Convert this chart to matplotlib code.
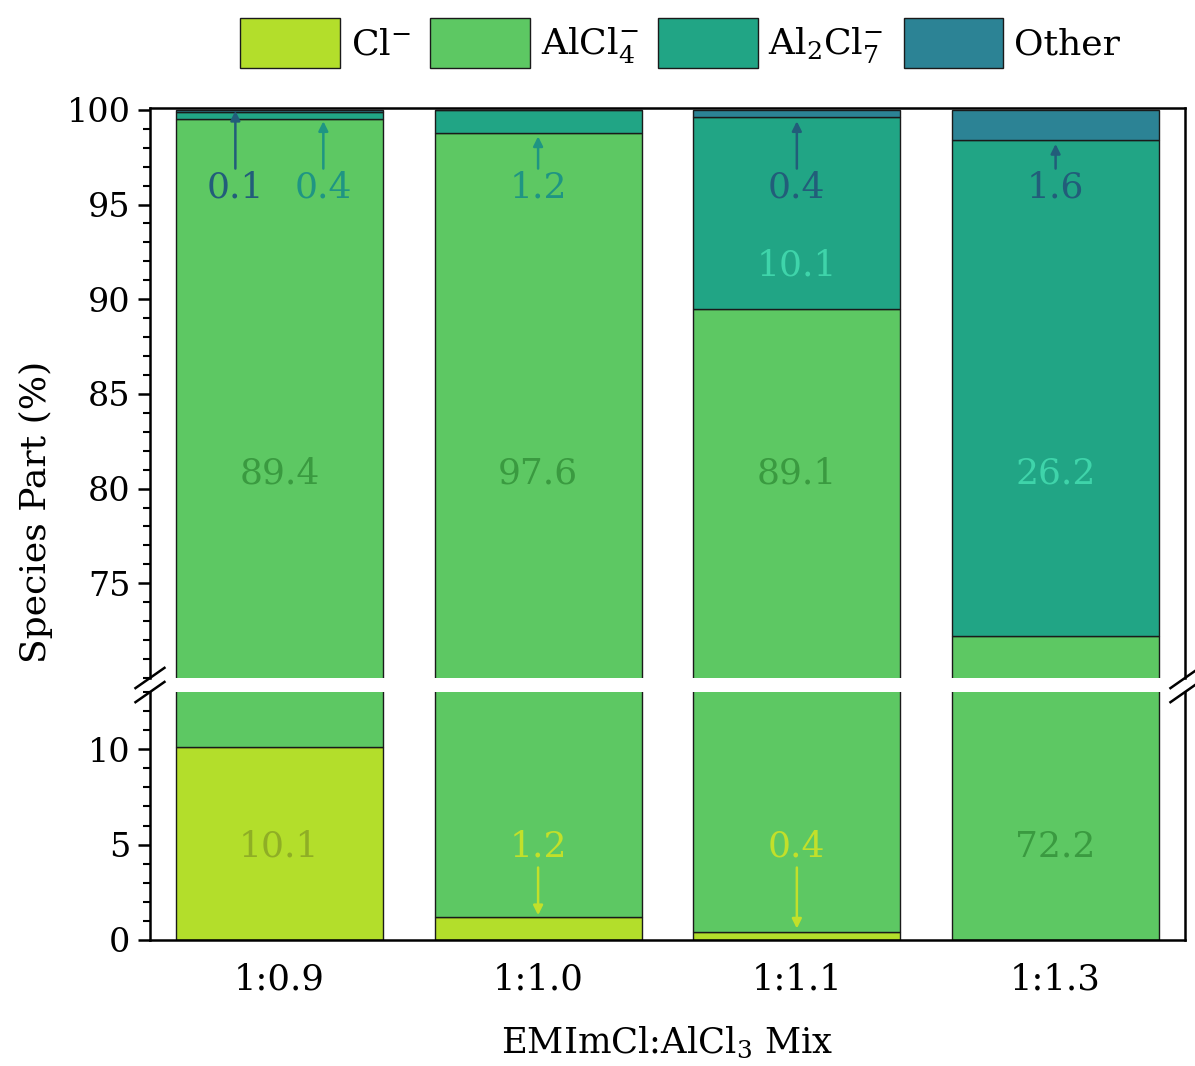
import numpy as np
import matplotlib
matplotlib.use("Agg")
import matplotlib.pyplot as plt
from matplotlib.ticker import MultipleLocator

plt.rcParams['font.family'] = ['DejaVu Serif']
plt.rcParams['mathtext.fontset'] = 'dejavuserif'

mixes = ["1:0.9", "1:1.0", "1:1.1", "1:1.3"]
cl = [10.1, 1.2, 0.4, 0.0]
alcl4 = [89.4, 97.6, 89.1, 72.2]
al2cl7 = [0.4, 1.2, 10.1, 26.2]
other = [0.1, 0.0, 0.4, 1.6]

species = [r"Cl$^{-}$", r"AlCl$_4^{-}$", r"Al$_2$Cl$_7^{-}$", "Other"]
colors = ["#b3de2b", "#5dc863", "#21a585", "#2c8395"]

x = np.arange(len(mixes))
series = [cl, alcl4, al2cl7, other]

fig = plt.figure(figsize=(11.95, 10.66), dpi=100)
ax_top = fig.add_axes([0.1255, 0.364, 0.8661, 0.5347])
ax_bot = fig.add_axes([0.1255, 0.1182, 0.8661, 0.2326])

for ax in (ax_top, ax_bot):
    bottom = np.zeros(len(mixes))
    for vals, col, lab in zip(series, colors, species):
        ax.bar(x, vals, 0.8, bottom=bottom, color=col, edgecolor="#1a1a1a",
               linewidth=1.0, label=lab)
        bottom += np.array(vals)
    ax.set_xlim(-0.5, 3.5)
    for s in ax.spines.values():
        s.set_linewidth(1.8)
    ax.tick_params(axis="y", which="major", direction="out", length=9, width=1.8,
                   labelsize=24, pad=5)
    ax.tick_params(axis="y", which="minor", direction="out", length=5, width=1.5)
    ax.yaxis.set_major_locator(MultipleLocator(5))
    ax.yaxis.set_minor_locator(MultipleLocator(1))

ax_top.set_ylim(70, 100.1)
ax_top.set_yticks([75, 80, 85, 90, 95, 100])
ax_bot.set_ylim(0, 13)
ax_bot.set_yticks([0, 5, 10])
ax_top.spines["bottom"].set_visible(False)
ax_bot.spines["top"].set_visible(False)
ax_top.tick_params(axis="x", bottom=False, labelbottom=False)
ax_bot.set_xticks(x)
ax_bot.set_xticklabels(mixes, fontsize=25.5)
ax_bot.tick_params(axis="x", length=0, pad=16)
ax_bot.set_xlabel(r"EMImCl:AlCl$_3$ Mix", fontsize=25.5, labelpad=21)
fig.text(0.030, 0.52, "Species Part (%)", rotation=90, fontsize=26,
         ha="center", va="center")

# break marks
for xa in (0.0, 1.0):
    for ya in (0.0, 1.0):
        ax = ax_top if ya == 0.0 else ax_bot
        h = ax.get_position().height
        dy = 0.0095 / h
        ax.plot([xa - 0.014, xa + 0.014], [ya - dy, ya + dy], color="black",
                lw=1.8, transform=ax.transAxes, clip_on=False)

fs = 26
dark_green = "#3a9a40"
dark_blue = "#225d7a"
teal = "#1f9583"
light_teal = "#3fd4aa"

# main labels
for i in range(4):
    ax_top.text(x[i], 80.8, f"{alcl4[i]:.1f}" if i < 3 else f"{al2cl7[i]:.1f}",
                ha="center", va="center", fontsize=fs,
                color=dark_green if i < 3 else light_teal)

ax_top.text(x[2], 91.8, f"{al2cl7[2]:.1f}", ha="center", va="center",
            fontsize=fs, color=light_teal)
ax_bot.text(x[3], 4.9, f"{alcl4[3]:.1f}", ha="center", va="center",
            fontsize=fs, color=dark_green)
ax_bot.text(x[0], 4.9, f"{cl[0]:.1f}", ha="center", va="center",
            fontsize=fs, color="#8fae25")

# small segment labels with arrows (top)
arrow_lbls = [
    (x[0] - 0.17, other[0], 99.95, dark_blue),
    (x[0] + 0.17, al2cl7[0], 99.4, teal),
    (x[1], al2cl7[1], 98.6, teal),
    (x[2], other[2], 99.4, dark_blue),
    (x[3], other[3], 98.2, dark_blue),
]
for xp, val, tip, col in arrow_lbls:
    ax_top.text(xp, 95.9, f"{val:.1f}", ha="center", va="center",
                fontsize=fs, color=col)
    ax_top.annotate("", xy=(xp, tip), xytext=(xp, 96.9),
                    arrowprops=dict(arrowstyle="-|>", color=col, lw=1.8,
                                    mutation_scale=14, shrinkA=0, shrinkB=0))

# bottom small Cl- labels
for i, tip in ((1, 1.3), (2, 0.6)):
    ax_bot.text(x[i], 4.9, f"{cl[i]:.1f}", ha="center", va="center",
                fontsize=fs, color="#c2e02a")
    ax_bot.annotate("", xy=(x[i], tip), xytext=(x[i], 3.8),
                    arrowprops=dict(arrowstyle="-|>", color="#c2e02a", lw=1.8,
                                    mutation_scale=14, shrinkA=0, shrinkB=0))

handles, labels = ax_top.get_legend_handles_labels()
fig.legend(handles, labels, loc="center", bbox_to_anchor=(0.569, 0.96),
           ncol=4, frameon=False, fontsize=26, handlelength=2.75,
           handleheight=1.75, handletextpad=0.3, columnspacing=0.55)

fig.savefig("out.png", dpi=100)
